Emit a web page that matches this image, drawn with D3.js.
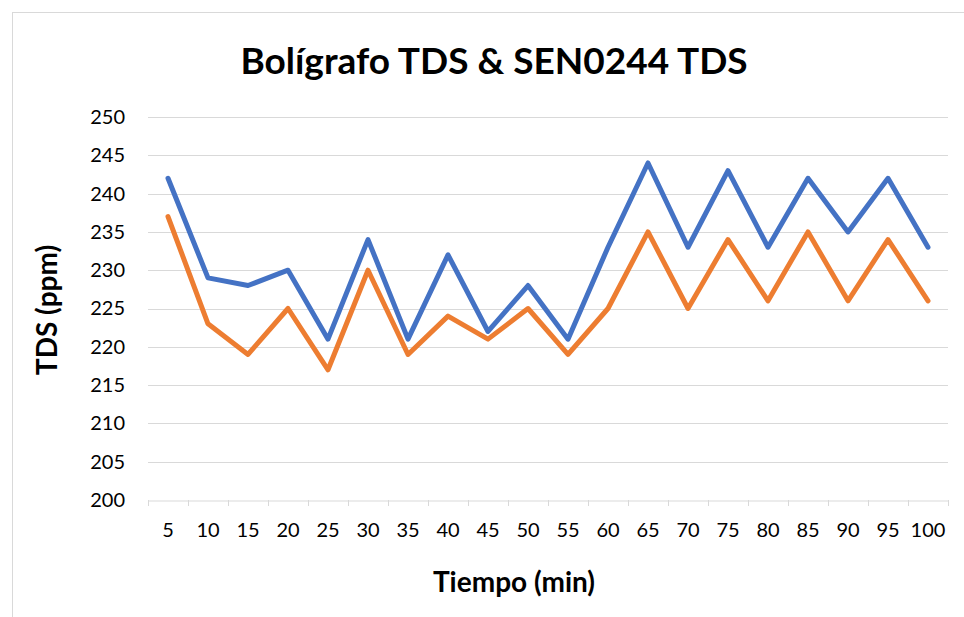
<!DOCTYPE html>
<html>
<head>
<meta charset="utf-8">
<script src="https://cdn.jsdelivr.net/npm/d3@7"></script>
<style>
  body { margin: 0; background: #fff; }
  svg { display: block; }
</style>
</head>
<body>
<script>
// chart data
var tiempo = [5, 10, 15, 20, 25, 30, 35, 40, 45, 50, 55, 60, 65, 70, 75, 80, 85, 90, 95, 100];
var boligrafo = [242, 229, 228, 230, 221, 234, 221, 232, 222, 228, 221, 233, 244, 233, 243, 233, 242, 235, 242, 233];
var sen0244 = [237, 223, 219, 225, 217, 230, 219, 224, 221, 225, 219, 225, 235, 225, 234, 226, 235, 226, 234, 226];
var yTicks = [200, 205, 210, 215, 220, 225, 230, 235, 240, 245, 250];

var width = 964, height = 617;
var margin = {top: 117, right: 16, bottom: 117, left: 148};
var font = "Lato, 'Open Sans', sans-serif";

var svg = d3.select("body").append("svg")
    .attr("width", width)
    .attr("height", height);

// chart frame
svg.append("rect")
    .attr("x", 12.5).attr("y", 12.5)
    .attr("width", width + 20).attr("height", height + 20)
    .attr("fill", "#fff")
    .attr("stroke", "#d9d9d9")
    .attr("stroke-width", 1);

var x = d3.scaleBand().domain(tiempo).range([margin.left, width - margin.right]);
var y = d3.scaleLinear().domain([200, 250]).range([height - margin.bottom, margin.top]);

// gridlines
svg.append("g")
    .selectAll("line")
    .data(yTicks.slice(1))
    .enter().append("line")
    .attr("x1", margin.left).attr("x2", width - margin.right)
    .attr("y1", function(d) { return Math.round(y(d)) + 0.5; })
    .attr("y2", function(d) { return Math.round(y(d)) + 0.5; })
    .attr("stroke", "#d9d9d9")
    .attr("stroke-width", 1);

// x axis
var xAxis = svg.append("g")
    .attr("transform", "translate(0," + (Math.round(y(200)) + 0.5) + ")")
    .call(d3.axisBottom(x).tickSize(0).tickPadding(22));
xAxis.select(".domain").attr("stroke", "#d9d9d9");
xAxis.selectAll("text")
    .attr("font-family", font)
    .attr("font-size", 20)
    .attr("fill", "#000");

// tick marks between categories
svg.append("g")
    .selectAll("line")
    .data(tiempo.concat(["end"]))
    .enter().append("line")
    .attr("x1", function(d, i) { return Math.round(margin.left + i * x.step()) + 0.5; })
    .attr("x2", function(d, i) { return Math.round(margin.left + i * x.step()) + 0.5; })
    .attr("y1", y(200))
    .attr("y2", y(200) + 6)
    .attr("stroke", "#d9d9d9");

// y axis labels
var yAxis = svg.append("g")
    .attr("transform", "translate(" + margin.left + ",0)")
    .call(d3.axisLeft(y).tickValues(yTicks).tickSize(0).tickPadding(23));
yAxis.select(".domain").remove();
yAxis.selectAll("text")
    .attr("font-family", font)
    .attr("font-size", 20)
    .attr("fill", "#000");

// lines
var line = function(values) {
    return d3.line()
        .x(function(d, i) { return x(tiempo[i]) + x.bandwidth() / 2; })
        .y(function(d) { return y(d); })(values);
};

svg.append("path")
    .attr("d", line(boligrafo))
    .attr("fill", "none")
    .attr("stroke", "#4472C4")
    .attr("stroke-width", 5)
    .attr("stroke-linejoin", "round")
    .attr("stroke-linecap", "round");

svg.append("path")
    .attr("d", line(sen0244))
    .attr("fill", "none")
    .attr("stroke", "#ED7D31")
    .attr("stroke-width", 5)
    .attr("stroke-linejoin", "round")
    .attr("stroke-linecap", "round");

// title and axis titles
svg.append("text")
    .attr("x", 494).attr("y", 74)
    .attr("text-anchor", "middle")
    .attr("font-family", font)
    .attr("font-weight", "bold")
    .attr("font-size", 37)
    .attr("fill", "#000")
    .text("Bolígrafo TDS & SEN0244 TDS");

svg.append("text")
    .attr("x", 514).attr("y", 592)
    .attr("text-anchor", "middle")
    .attr("font-family", font)
    .attr("font-weight", "bold")
    .attr("font-size", 28)
    .attr("fill", "#000")
    .text("Tiempo (min)");

svg.append("text")
    .attr("transform", "translate(57,310)rotate(-90)")
    .attr("text-anchor", "middle")
    .attr("font-family", font)
    .attr("font-weight", "bold")
    .attr("font-size", 28)
    .attr("fill", "#000")
    .text("TDS (ppm)");
</script>
</body>
</html>
